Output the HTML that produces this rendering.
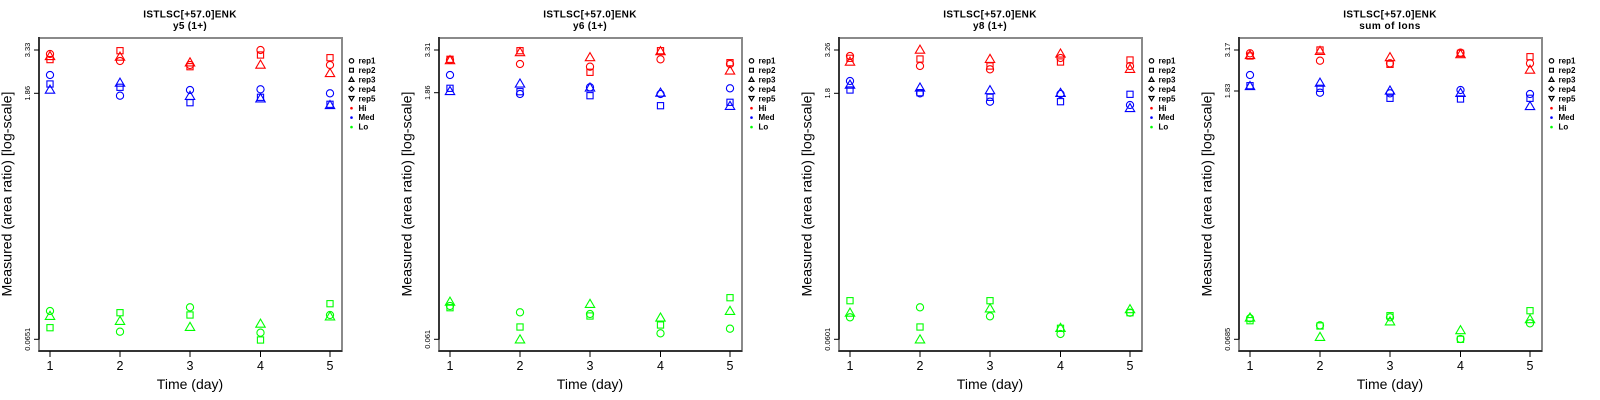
<!DOCTYPE html>
<html><head><meta charset="utf-8"><style>
html,body{margin:0;padding:0;background:#fff;}
svg{display:block;}
text{font-family:"Liberation Sans",Arial,sans-serif;}
</style></head><body>
<svg width="1600" height="400" viewBox="0 0 1600 400" xmlns="http://www.w3.org/2000/svg">
<defs>
<circle id="c" r="3.6" fill="none"/>
<rect id="s" x="-3.1" y="-3.1" width="6.2" height="6.2" fill="none"/>
<path id="t" d="M0,-5.4 L4.7,2.7 L-4.7,2.7 Z" fill="none"/>
<g id="frame">
<rect x="39" y="38" width="303" height="313" fill="none" stroke="#8a8a8a" stroke-width="2"/>
<line x1="39" y1="37" x2="39" y2="339.5" stroke="#000" stroke-width="1.2"/>
<line x1="38.5" y1="351" x2="342" y2="351" stroke="#000" stroke-width="1.3"/>
<g stroke="#000" stroke-width="1">
<line x1="50" y1="351" x2="50" y2="357"/><line x1="120" y1="351" x2="120" y2="357"/><line x1="190" y1="351" x2="190" y2="357"/><line x1="260.5" y1="351" x2="260.5" y2="357"/><line x1="330" y1="351" x2="330" y2="357"/>
</g>
<g font-size="12.5" text-anchor="middle" fill="#000">
<text x="50" y="370">1</text><text x="120" y="370">2</text><text x="190" y="370">3</text><text x="260.5" y="370">4</text><text x="330" y="370">5</text>
</g>
<text x="190" y="389" font-size="14" text-anchor="middle">Time (day)</text>
<text transform="translate(11.5,194) rotate(-90)" font-size="14.2" text-anchor="middle">Measured (area ratio) [log-scale]</text>
<g font-size="8" font-weight="bold" fill="#000">
<text x="358.5" y="63.6">rep1</text><text x="358.5" y="73">rep2</text><text x="358.5" y="82.4">rep3</text><text x="358.5" y="91.9">rep4</text><text x="358.5" y="101.3">rep5</text><text x="358.5" y="110.8">Hi</text><text x="358.5" y="120.2">Med</text><text x="358.5" y="129.7">Lo</text>
</g>
<g fill="none" stroke="#000" stroke-width="1.2">
<circle cx="351.5" cy="60.8" r="2.2"/>
<rect x="349.6" y="68.3" width="3.8" height="3.8"/>
<path d="M351.5,77.2 L354,81.4 L349,81.4 Z"/>
<path d="M351.5,86.6 L353.9,89 L351.5,91.4 L349.1,89 Z"/>
<path d="M349,96.5 L354,96.5 L351.5,100.7 Z"/>
</g>
<circle cx="351.5" cy="108.2" r="1.3" fill="#ff0000"/>
<circle cx="351.5" cy="117.6" r="1.3" fill="#0000ff"/>
<circle cx="351.5" cy="127.1" r="1.3" fill="#00ff00"/>
</g>
</defs>

<!-- Panel 1 -->
<g>
<use href="#frame"/>
<text x="190" y="17.5" font-size="10" font-weight="bold" text-anchor="middle" letter-spacing="0.3">ISTLSC[+57.0]ENK</text>
<text x="190" y="29" font-size="10" font-weight="bold" text-anchor="middle" letter-spacing="0.3">y5 (1+)</text>
<g stroke="#000"><line x1="34" y1="50" x2="39" y2="50"/><line x1="34" y1="93.3" x2="39" y2="93.3"/><line x1="34" y1="339.3" x2="39" y2="339.3"/></g>
<g font-size="7.5" text-anchor="middle">
<text transform="translate(30,50) rotate(-90)">3.33</text>
<text transform="translate(30,93.3) rotate(-90)">1.86</text>
<text transform="translate(30,339.3) rotate(-90)">0.0651</text>
</g>
<g stroke="#ff0000" stroke-width="1.1">
<use href="#c" x="50" y="54"/><use href="#s" x="50" y="59.6"/><use href="#t" x="50" y="56.9"/>
<use href="#s" x="120" y="50.7"/><use href="#t" x="120" y="57.5"/><use href="#c" x="120" y="61"/>
<use href="#t" x="190" y="63.2"/><use href="#c" x="190" y="65"/><use href="#s" x="190" y="66.7"/>
<use href="#c" x="260.5" y="50"/><use href="#s" x="260.5" y="55"/><use href="#t" x="260.5" y="65.5"/>
<use href="#s" x="330" y="57.7"/><use href="#c" x="330" y="65"/><use href="#t" x="330" y="73.9"/>
</g>
<g stroke="#0000ff" stroke-width="1.1">
<use href="#c" x="50" y="75"/><use href="#s" x="50" y="84"/><use href="#t" x="50" y="90.5"/>
<use href="#t" x="120" y="83.5"/><use href="#s" x="120" y="87.3"/><use href="#c" x="120" y="95.7"/>
<use href="#c" x="190" y="90"/><use href="#t" x="190" y="96.7"/><use href="#s" x="190" y="102.7"/>
<use href="#c" x="260.5" y="89.3"/><use href="#s" x="260.5" y="97.3"/><use href="#t" x="260.5" y="99.2"/>
<use href="#c" x="330" y="93.3"/><use href="#s" x="330" y="104.3"/><use href="#t" x="330" y="105.9"/>
</g>
<g stroke="#00ff00" stroke-width="1.1">
<use href="#c" x="50" y="311"/><use href="#s" x="50" y="327.7"/><use href="#t" x="50" y="316.7"/>
<use href="#s" x="120" y="312.7"/><use href="#t" x="120" y="321.7"/><use href="#c" x="120" y="331.7"/>
<use href="#c" x="190" y="307.3"/><use href="#s" x="190" y="315"/><use href="#t" x="190" y="327.7"/>
<use href="#t" x="260.5" y="324.5"/><use href="#c" x="260.5" y="332.7"/><use href="#s" x="260.5" y="340"/>
<use href="#s" x="330" y="303.7"/><use href="#c" x="330" y="315"/><use href="#t" x="330" y="317.2"/>
</g>
</g>

<!-- Panel 2 -->
<g transform="translate(400,0)">
<use href="#frame"/>
<text x="190" y="17.5" font-size="10" font-weight="bold" text-anchor="middle" letter-spacing="0.3">ISTLSC[+57.0]ENK</text>
<text x="190" y="29" font-size="10" font-weight="bold" text-anchor="middle" letter-spacing="0.3">y6 (1+)</text>
<g stroke="#000"><line x1="34" y1="50" x2="39" y2="50"/><line x1="34" y1="92.7" x2="39" y2="92.7"/><line x1="34" y1="339.3" x2="39" y2="339.3"/></g>
<g font-size="7.5" text-anchor="middle">
<text transform="translate(30,50) rotate(-90)">3.31</text>
<text transform="translate(30,92.7) rotate(-90)">1.86</text>
<text transform="translate(30,339.3) rotate(-90)">0.061</text>
</g>
<g stroke="#ff0000" stroke-width="1.1">
<use href="#c" x="50" y="60"/><use href="#s" x="50" y="59.3"/><use href="#t" x="50" y="61"/>
<use href="#s" x="120" y="50.7"/><use href="#t" x="120" y="53"/><use href="#c" x="120" y="64"/>
<use href="#t" x="190" y="58"/><use href="#c" x="190" y="66.7"/><use href="#s" x="190" y="72.3"/>
<use href="#s" x="260.5" y="50.7"/><use href="#t" x="260.5" y="52"/><use href="#c" x="260.5" y="59.3"/>
<use href="#s" x="330" y="62.7"/><use href="#c" x="330" y="64"/><use href="#t" x="330" y="71.4"/>
</g>
<g stroke="#0000ff" stroke-width="1.1">
<use href="#c" x="50" y="75"/><use href="#s" x="50" y="88.3"/><use href="#t" x="50" y="91.9"/>
<use href="#t" x="120" y="84.4"/><use href="#s" x="120" y="91.7"/><use href="#c" x="120" y="94"/>
<use href="#t" x="190" y="88.4"/><use href="#c" x="190" y="87.3"/><use href="#s" x="190" y="95.7"/>
<use href="#t" x="260.5" y="93.5"/><use href="#c" x="260.5" y="94"/><use href="#s" x="260.5" y="105.7"/>
<use href="#c" x="330" y="88.3"/><use href="#s" x="330" y="102.3"/><use href="#t" x="330" y="106.7"/>
</g>
<g stroke="#00ff00" stroke-width="1.1">
<use href="#t" x="50" y="302.5"/><use href="#c" x="50" y="306"/><use href="#s" x="50" y="307.7"/>
<use href="#c" x="120" y="312.3"/><use href="#s" x="120" y="327"/><use href="#t" x="120" y="340.2"/>
<use href="#t" x="190" y="304.7"/><use href="#c" x="190" y="314"/><use href="#s" x="190" y="316"/>
<use href="#t" x="260.5" y="318.4"/><use href="#s" x="260.5" y="325"/><use href="#c" x="260.5" y="333.3"/>
<use href="#s" x="330" y="297.7"/><use href="#t" x="330" y="311.7"/><use href="#c" x="330" y="328.7"/>
</g>
</g>

<!-- Panel 3 -->
<g transform="translate(800,0)">
<use href="#frame"/>
<text x="190" y="17.5" font-size="10" font-weight="bold" text-anchor="middle" letter-spacing="0.3">ISTLSC[+57.0]ENK</text>
<text x="190" y="29" font-size="10" font-weight="bold" text-anchor="middle" letter-spacing="0.3">y8 (1+)</text>
<g stroke="#000"><line x1="34" y1="50" x2="39" y2="50"/><line x1="34" y1="93.3" x2="39" y2="93.3"/><line x1="34" y1="339.3" x2="39" y2="339.3"/></g>
<g font-size="7.5" text-anchor="middle">
<text transform="translate(30,50) rotate(-90)">3.26</text>
<text transform="translate(30,93.3) rotate(-90)">1.8</text>
<text transform="translate(30,339.3) rotate(-90)">0.0601</text>
</g>
<g stroke="#ff0000" stroke-width="1.1">
<use href="#c" x="50" y="56"/><use href="#s" x="50" y="58.3"/><use href="#t" x="50" y="62.5"/>
<use href="#t" x="120" y="50.5"/><use href="#s" x="120" y="59"/><use href="#c" x="120" y="66"/>
<use href="#t" x="190" y="59.7"/><use href="#s" x="190" y="66"/><use href="#c" x="190" y="69.3"/>
<use href="#t" x="260.5" y="54.4"/><use href="#c" x="260.5" y="58"/><use href="#s" x="260.5" y="62"/>
<use href="#s" x="330" y="60"/><use href="#c" x="330" y="66"/><use href="#t" x="330" y="69.7"/>
</g>
<g stroke="#0000ff" stroke-width="1.1">
<use href="#c" x="50" y="81"/><use href="#t" x="50" y="85.5"/><use href="#s" x="50" y="90"/>
<use href="#t" x="120" y="88.4"/><use href="#s" x="120" y="92.7"/><use href="#c" x="120" y="93.3"/>
<use href="#t" x="190" y="91"/><use href="#s" x="190" y="97.3"/><use href="#c" x="190" y="101.7"/>
<use href="#t" x="260.5" y="93.7"/><use href="#c" x="260.5" y="94"/><use href="#s" x="260.5" y="101.7"/>
<use href="#s" x="330" y="94.3"/><use href="#c" x="330" y="105"/><use href="#t" x="330" y="108.9"/>
</g>
<g stroke="#00ff00" stroke-width="1.1">
<use href="#s" x="50" y="300.7"/><use href="#t" x="50" y="313.5"/><use href="#c" x="50" y="317.3"/>
<use href="#c" x="120" y="307.3"/><use href="#s" x="120" y="327"/><use href="#t" x="120" y="340.2"/>
<use href="#s" x="190" y="300.7"/><use href="#t" x="190" y="309.2"/><use href="#c" x="190" y="316.3"/>
<use href="#t" x="260.5" y="328.7"/><use href="#s" x="260.5" y="328.3"/><use href="#c" x="260.5" y="334"/>
<use href="#t" x="330" y="310"/><use href="#s" x="330" y="312.7"/><use href="#c" x="330" y="312.7"/>
</g>
</g>

<!-- Panel 4 -->
<g transform="translate(1200,0)">
<use href="#frame"/>
<text x="190" y="17.5" font-size="10" font-weight="bold" text-anchor="middle" letter-spacing="0.3">ISTLSC[+57.0]ENK</text>
<text x="190" y="29" font-size="10" font-weight="bold" text-anchor="middle" letter-spacing="0.5">sum of Ions</text>
<g stroke="#000"><line x1="34" y1="50" x2="39" y2="50"/><line x1="34" y1="91" x2="39" y2="91"/><line x1="34" y1="339.3" x2="39" y2="339.3"/></g>
<g font-size="7.5" text-anchor="middle">
<text transform="translate(30,50) rotate(-90)">3.17</text>
<text transform="translate(30,91) rotate(-90)">1.83</text>
<text transform="translate(30,339.3) rotate(-90)">0.0685</text>
</g>
<g stroke="#ff0000" stroke-width="1.1">
<use href="#c" x="50" y="53.3"/><use href="#t" x="50" y="55.9"/><use href="#s" x="50" y="56"/>
<use href="#s" x="120" y="50"/><use href="#t" x="120" y="51.7"/><use href="#c" x="120" y="60.7"/>
<use href="#t" x="190" y="58"/><use href="#c" x="190" y="63.3"/><use href="#s" x="190" y="64.3"/>
<use href="#c" x="260.5" y="52.7"/><use href="#s" x="260.5" y="53.3"/><use href="#t" x="260.5" y="55"/>
<use href="#s" x="330" y="56.7"/><use href="#c" x="330" y="63.3"/><use href="#t" x="330" y="70.5"/>
</g>
<g stroke="#0000ff" stroke-width="1.1">
<use href="#c" x="50" y="75"/><use href="#s" x="50" y="85.7"/><use href="#t" x="50" y="86.9"/>
<use href="#t" x="120" y="83.5"/><use href="#s" x="120" y="88.3"/><use href="#c" x="120" y="92.7"/>
<use href="#t" x="190" y="91.4"/><use href="#c" x="190" y="93.3"/><use href="#s" x="190" y="98.3"/>
<use href="#c" x="260.5" y="90"/><use href="#t" x="260.5" y="93.7"/><use href="#s" x="260.5" y="99"/>
<use href="#c" x="330" y="94"/><use href="#s" x="330" y="98.3"/><use href="#t" x="330" y="106.9"/>
</g>
<g stroke="#00ff00" stroke-width="1.1">
<use href="#t" x="50" y="318.4"/><use href="#c" x="50" y="318.3"/><use href="#s" x="50" y="320.7"/>
<use href="#c" x="120" y="325.3"/><use href="#s" x="120" y="326"/><use href="#t" x="120" y="337.7"/>
<use href="#s" x="190" y="315.7"/><use href="#c" x="190" y="317.3"/><use href="#t" x="190" y="322.2"/>
<use href="#t" x="260.5" y="331"/><use href="#c" x="260.5" y="339"/><use href="#s" x="260.5" y="339.3"/>
<use href="#s" x="330" y="310.7"/><use href="#t" x="330" y="320"/><use href="#c" x="330" y="323.3"/>
</g>
</g>
</svg>
</body></html>
